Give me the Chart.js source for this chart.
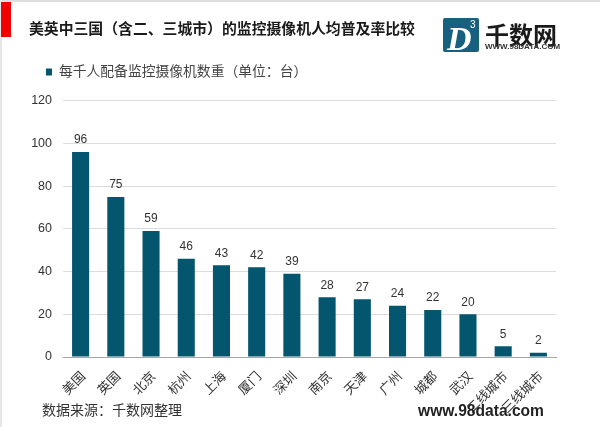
<!DOCTYPE html>
<html>
<head>
<meta charset="utf-8">
<script src="https://cdn.jsdelivr.net/npm/chart.js@4"></script>
<style>
  html, body { margin: 0; padding: 0; background: #fff; }
  body { position: relative; width: 600px; height: 427px; overflow: hidden; font-family: "Liberation Sans", "Noto Sans CJK SC", sans-serif; }
  canvas { position: absolute; left: 0; top: 0; }
  .abs { position: absolute; white-space: nowrap; }
  #topLine { left: 0; top: 0; width: 600px; height: 2px; background: #dedede; }
  #leftLine { left: 0; top: 0; width: 2px; height: 427px; background: #e6e6e6; }
  #redBar { left: 1px; top: 2px; width: 10px; height: 35px; background: #f00000; }
  #title { left: 29px; top: 17px; font-size: 14.85px; font-weight: bold; color: #1a1a1a; }
  #source { left: 42px; top: 399px; font-size: 14px; color: #333; }
  #site { left: 418px; top: 402px; font-size: 15.6px; font-weight: bold; color: #222; }
  #logoBox { left: 443px; top: 18px; width: 36px; height: 34px; background: #17607f; border-radius: 2px; overflow: hidden; }
  #logoD { left: 4px; top: 2px; font-family: "Liberation Serif", serif; font-size: 34px; font-weight: bold; font-style: italic; color: #fff; }
  #logoThree { left: 27px; top: 1px; font-size: 10px; color: #fff; }
  #logoName { left: 485px; top: 16px; font-size: 24px; font-weight: bold; color: #1a1a1a; }
  #logoUrl { left: 485px; top: 42px; font-size: 8px; font-weight: bold; color: #333; }
</style>
</head>
<body>
<canvas id="barChart" width="600" height="427"></canvas>
<div class="abs" id="topLine"></div>
<div class="abs" id="leftLine"></div>
<div class="abs" id="redBar"></div>
<div class="abs" id="title">美英中三国（含二、三城市）的监控摄像机人均普及率比较</div>
<div class="abs" id="logoBox">
  <div class="abs" id="logoD">D</div>
  <div class="abs" id="logoThree">3</div>
</div>
<div class="abs" id="logoName">千数网</div>
<div class="abs" id="logoUrl">WWW.98DATA.COM</div>
<div class="abs" id="source">数据来源：千数网整理</div>
<div class="abs" id="site">www.98data.com</div>

<script>
var categories = ['美国', '英国', '北京', '杭州', '上海', '厦门', '深圳', '南京', '天津', '广州', '城都', '武汉', '二线城市', '三线城市'];
var cameraCounts = [96, 75, 59, 46, 43, 42, 39, 28, 27, 24, 22, 20, 5, 2];
var seriesName = '每千人配备监控摄像机数重（单位：台）';
var fontFamily = '"Liberation Sans", "Noto Sans CJK SC", sans-serif';

// Draw the value above each bar
var barValueLabels = {
  id: 'barValueLabels',
  afterDatasetsDraw: function(chart) {
    var ctx = chart.ctx;
    var bars = chart.getDatasetMeta(0).data;
    ctx.save();
    ctx.font = '12px ' + fontFamily;
    ctx.fillStyle = '#333';
    ctx.textAlign = 'center';
    ctx.textBaseline = 'bottom';
    bars.forEach(function(bar, i) {
      ctx.fillText(cameraCounts[i], bar.x, bar.y - 6);
    });
    ctx.restore();
  }
};

// Extra gap under the legend
var legendSpacer = {
  id: 'legendSpacer',
  beforeInit: function(chart) {
    var fit = chart.legend.fit;
    chart.legend.fit = function() {
      fit.call(this);
      this.height += 12;
    };
  }
};

new Chart(document.getElementById('barChart').getContext('2d'), {
  type: 'bar',
  data: {
    labels: categories,
    datasets: [{
      label: seriesName,
      data: cameraCounts,
      backgroundColor: '#04566f',
      barPercentage: 0.97,
      categoryPercentage: 0.5
    }]
  },
  options: {
    responsive: false,
    animation: false,
    // the legend's label padding also sets its left offset, so top and left are tuned together
    layout: { padding: { left: 24, right: 44, top: 43, bottom: 0 } },
    plugins: {
      tooltip: { enabled: false },
      legend: {
        position: 'top',
        align: 'start',
        labels: {
          boxWidth: 6,
          boxHeight: 7,
          padding: 22,
          color: '#444',
          font: { size: 13.8, family: fontFamily }
        }
      }
    },
    scales: {
      x: {
        grid: { display: false, drawTicks: false },
        border: { color: '#a6a6a6', width: 1 },
        ticks: {
          minRotation: 45,
          maxRotation: 45,
          autoSkip: false,
          padding: 12,
          labelOffset: 3,
          color: '#333',
          font: { size: 13, family: fontFamily }
        },
        afterFit: function(scale) { scale.height = 70; }
      },
      y: {
        min: 0,
        max: 120,
        grid: { color: '#dcdcdc', drawTicks: false },
        border: { display: false },
        ticks: {
          stepSize: 20,
          padding: 11,
          color: '#333',
          font: { size: 12.5, family: fontFamily }
        },
        afterFit: function(scale) { scale.width = 39; }
      }
    }
  },
  plugins: [barValueLabels, legendSpacer]
});
</script>
</body>
</html>
